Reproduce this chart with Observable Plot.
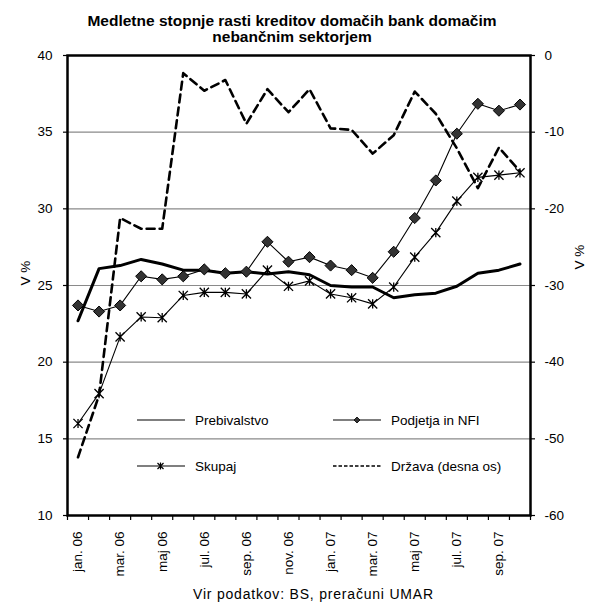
<!DOCTYPE html>
<html>
<head>
<meta charset="utf-8">
<script src="https://cdn.jsdelivr.net/npm/d3@7"></script>
<script src="https://cdn.jsdelivr.net/npm/@observablehq/plot@0.6"></script>
<style>
  html, body { margin: 0; padding: 0; background: #fff; }
  #wrap { position: relative; width: 589px; height: 604px; overflow: hidden; font-family: "Liberation Sans", Arial, sans-serif; color: #000; }
  #wrap svg.plot { position: absolute; left: 0; top: 0; }
  .title { position: absolute; left: 0; top: 13px; width: 584px; text-align: center; font-weight: bold; font-size: 15.5px; line-height: 15.6px; }
  .ylab { position: absolute; font-size: 13.5px; line-height: 15px; white-space: nowrap; transform: translate(-50%, -50%) rotate(-90deg); }
  .caption { position: absolute; left: 193px; top: 586px; font-size: 14px; line-height: 16px; letter-spacing: 0.8px; white-space: nowrap; }
  #legend { position: absolute; left: 0; top: 0; pointer-events: none; }
</style>
</head>
<body>
<div id="wrap">
  <div class="title">Medletne stopnje rasti kreditov domačih bank domačim<br>nebančnim sektorjem</div>
  <div class="ylab" style="left:25px; top:273px;">V %</div>
  <div class="ylab" style="left:579px; top:257px;">V %</div>
  <div class="caption">Vir podatkov: BS, preračuni UMAR</div>
</div>
<script>
// Categories (months)
const months = ["jan. 06","feb. 06","mar. 06","apr. 06","maj 06","jun. 06","jul. 06","avg. 06","sep. 06","okt. 06","nov. 06","dec. 06",
                "jan. 07","feb. 07","mar. 07","apr. 07","maj 07","jun. 07","jul. 07","avg. 07","sep. 07","okt. 07"];
// Series values (%)
const prebivalstvo = [22.7, 26.1, 26.3, 26.7, 26.4, 26.0, 26.0, 25.8, 25.9, 25.75, 25.9, 25.7, 25.0, 24.9, 24.9, 24.2, 24.4, 24.5, 24.95, 25.8, 26.0, 26.4];
const podjetja = [23.7, 23.3, 23.7, 25.6, 25.4, 25.6, 26.05, 25.8, 25.9, 27.85, 26.55, 26.85, 26.3, 26.0, 25.5, 27.2, 29.4, 31.85, 34.9, 36.85, 36.4, 36.8];
const skupaj = [16.0, 17.95, 21.65, 22.95, 22.9, 24.35, 24.55, 24.55, 24.45, 26.0, 24.95, 25.3, 24.45, 24.2, 23.8, 24.9, 26.85, 28.45, 30.5, 32.05, 32.2, 32.35];
// Right axis series
const drzava = [-52.4, -44.3, -21.2, -22.6, -22.6, -2.3, -4.6, -3.2, -8.9, -4.4, -7.4, -4.4, -9.5, -9.7, -12.8, -10.4, -4.7, -7.6, -12.1, -17.3, -12.0, -15.1];
// Tick values
const leftTicks = [10, 15, 20, 25, 30, 35, 40];
const gridTicks = [15, 20, 25, 30, 35];
const rightTicks = [0, -10, -20, -30, -40, -50, -60];
const labelIdx = d3.range(0, months.length, 2);
const seriesNames = ["Prebivalstvo", "Podjetja in NFI", "Skupaj", "Država (desna os)"];

// right axis [-60, 0] mapped onto left axis [10, 40]
const toLeft = v => 40 + v / 2;
const toRight = v => (v - 40) * 2;

const asterisk = {
  draw(ctx, size) {
    const r = Math.sqrt(size / Math.PI);
    ctx.moveTo(-r, -r); ctx.lineTo(r, r);
    ctx.moveTo(-r, r); ctx.lineTo(r, -r);
    ctx.moveTo(0, -r); ctx.lineTo(0, r);
  }
};

const X = (d, i) => i;
const Y = d => d;

const chart = Plot.plot({
  width: 589,
  height: 604,
  marginTop: 55,
  marginBottom: 89,
  marginLeft: 67,
  marginRight: 59,
  style: { fontFamily: "'Liberation Sans', Arial, sans-serif", fontSize: "13.5px", color: "#000", background: "transparent" },
  x: { type: "linear", domain: [-0.5, months.length - 0.5] },
  y: { domain: [10, 40] },
  marks: [
    Plot.gridY(gridTicks, { stroke: "#8a8a8a", strokeOpacity: 1, strokeWidth: 1.2 }),
    Plot.axisY(leftTicks, { anchor: "left", tickSize: 4, tickPadding: 11, tickFormat: d => String(d), label: null, stroke: "#000", strokeWidth: 1.2 }),
    Plot.axisY(rightTicks.map(toLeft), { anchor: "right", tickSize: 4, tickPadding: 10, tickFormat: d => String(toRight(d)), label: null, stroke: "#000", strokeWidth: 1.2 }),
    Plot.axisX(d3.range(-0.5, months.length, 1), { anchor: "bottom", tickSize: 5, tickFormat: () => "", label: null, stroke: "#000", strokeWidth: 1.2 }),
    Plot.axisX(labelIdx, { anchor: "bottom", tickSize: 0, tickPadding: 16, tickRotate: -90, tickFormat: i => months[i], label: null }),
    Plot.lineY(prebivalstvo, { x: X, y: Y, stroke: "#000", strokeWidth: 3 }),
    Plot.lineY(podjetja, { x: X, y: Y, stroke: "#000", strokeWidth: 1.1 }),
    Plot.dot(podjetja, { x: X, y: Y, symbol: "diamond2", r: 5, fill: "#333", stroke: "#000", strokeWidth: 1 }),
    Plot.lineY(skupaj, { x: X, y: Y, stroke: "#000", strokeWidth: 1.1 }),
    Plot.dot(skupaj, { x: X, y: Y, symbol: asterisk, r: 4.6, fill: "none", stroke: "#000", strokeWidth: 1.3 }),
    Plot.lineY(drzava, { x: X, y: d => toLeft(d), stroke: "#000", strokeWidth: 2.6, strokeDasharray: "8,5" }),
    Plot.frame({ stroke: "#000", strokeWidth: 2.5 })
  ]
});
chart.classList.add("plot");
const wrap = document.getElementById("wrap");
wrap.insertBefore(chart, wrap.firstChild);

// Legend (inside plot area)
const lg = d3.select(wrap).append("svg").attr("id", "legend").attr("width", 589).attr("height", 604)
  .style("font-family", "'Liberation Sans', Arial, sans-serif").style("font-size", "13.5px");
const items = [
  { name: seriesNames[0], x: 137, y: 420, kind: "plain" },
  { name: seriesNames[1], x: 333, y: 420, kind: "diamond" },
  { name: seriesNames[2], x: 137, y: 466, kind: "star" },
  { name: seriesNames[3], x: 333, y: 466, kind: "dash" }
];
items.forEach(it => {
  const g = lg.append("g").attr("transform", `translate(${it.x},${it.y})`);
  g.append("line").attr("x1", 0).attr("x2", 48).attr("y1", 0).attr("y2", 0)
    .attr("stroke", "#000").attr("stroke-width", it.kind === "dash" ? 1.3 : 1.2)
    .attr("stroke-dasharray", it.kind === "dash" ? "3.5,2" : null);
  if (it.kind === "diamond") {
    g.append("path").attr("d", "M24,-3L27,0L24,3L21,0Z").attr("fill", "#333").attr("stroke", "#000").attr("stroke-width", 0.8);
  }
  if (it.kind === "star") {
    g.append("path").attr("d", "M20.5,-3L26.5,3M20.5,3L26.5,-3M23.5,-3.5L23.5,3.5").attr("stroke", "#000").attr("stroke-width", 1.2);
  }
  g.append("text").attr("x", 58).attr("y", 0).attr("dy", "0.35em").text(it.name);
});
</script>
</body>
</html>
